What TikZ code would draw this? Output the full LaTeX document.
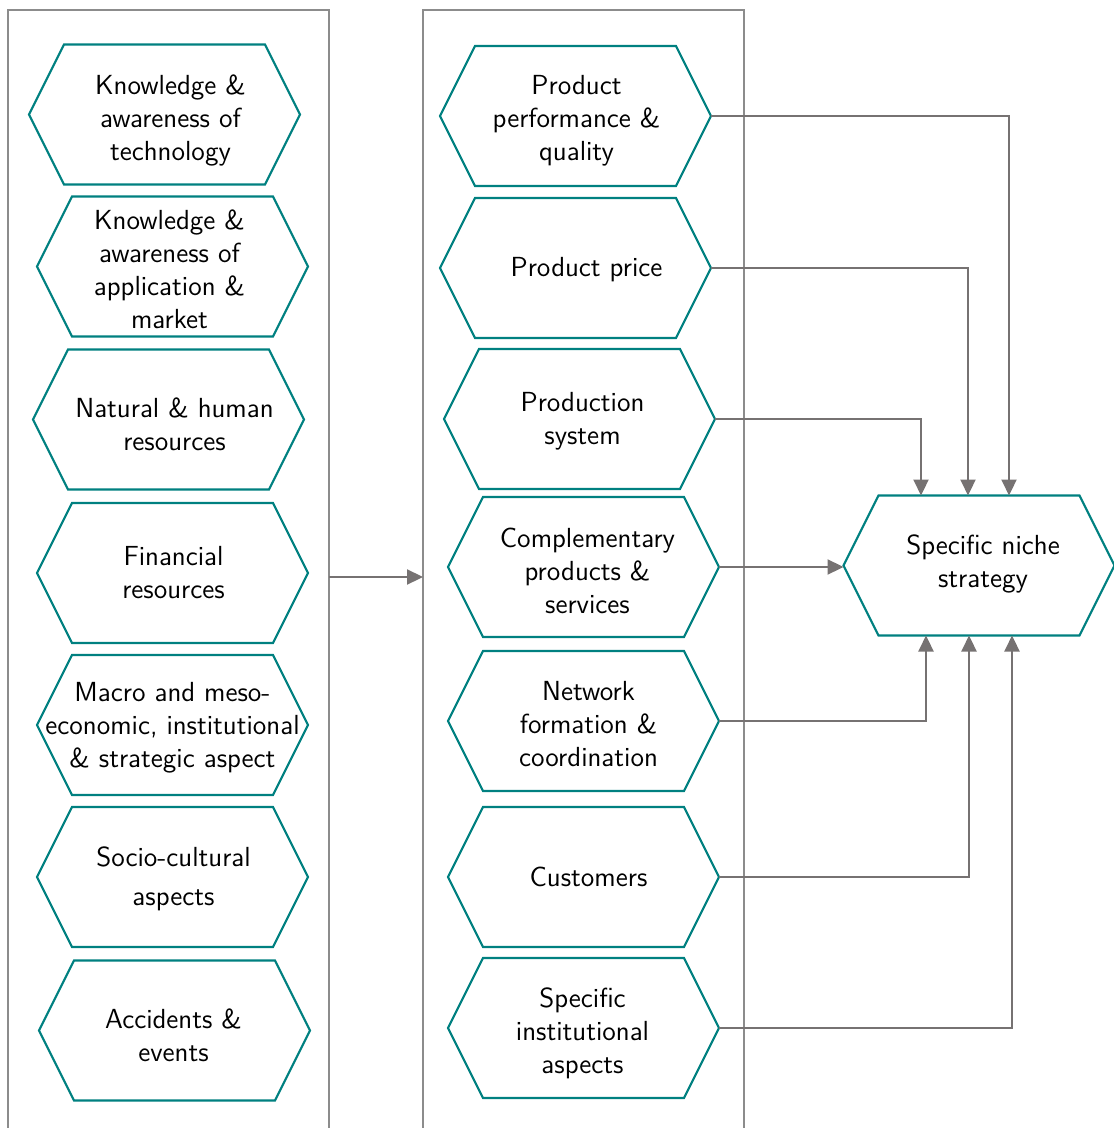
\documentclass[tikz,border=0pt]{standalone}
\usepackage{fontspec}
\usetikzlibrary{calc,arrows.meta}
\definecolor{hexteal}{RGB}{0,128,128}
\definecolor{linkgray}{RGB}{118,114,114}
\definecolor{framegray}{RGB}{140,140,140}
\tikzset{
  hexframe/.style={minimum width=135.5pt, minimum height=70pt, inner sep=0pt, outer sep=0pt},
  hexline/.style={draw=hexteal, line width=1.05pt, line join=miter},
  hextext/.style={font=\sffamily\fontsize{13.8}{16.5}\selectfont, align=center, inner sep=0pt},
  groupbox/.style={draw=framegray, line width=1pt, inner sep=0pt, outer sep=0pt},
  conn/.style={draw=linkgray, line width=1.1pt, -{Triangle[length=8pt,width=7.5pt]}}
}
% hexagon: name, centre x, centre y, text, text shift x, text shift y
\newcommand\hexagonnode[6]{%
  \node[hexframe] (#1) at (#2,#3) {};
  \draw[hexline] (#1.west) -- ($(#1.north west)+(35,0)$) -- ($(#1.north east)+(-35,0)$)
    -- (#1.east) -- ($(#1.south east)+(-35,0)$) -- ($(#1.south west)+(35,0)$) -- cycle;
  \node[hextext] (#1-t) at ($(#1)+(#5,#6)$) {#4};
}
\begin{document}
\begin{tikzpicture}[x=0.5pt,y=-0.5pt]
\useasboundingbox (0,0) rectangle (1113,1128);

% the two grouping frames run past the lower edge
\node[groupbox, minimum width=160.5pt, minimum height=580pt, anchor=north west] (lbox) at (8,10) {};
\node[groupbox, minimum width=160.5pt, minimum height=580pt, anchor=north west] (mbox) at (423,10) {};

% left column
\hexagonnode{l1}{164.5}{114.5}{Knowledge \&\\awareness of\\technology}{6}{6}
\hexagonnode{l2}{172.5}{266.5}{Knowledge \&\\awareness of\\application \&\\market}{-3}{3}
\hexagonnode{l3}{168.5}{419.5}{Natural \& human\\resources}{6}{5}
\hexagonnode{l4}{172.5}{573}{Financial\\resources}{1}{0}
\hexagonnode{l5}{172.5}{725}{Macro and meso-\\economic, institutional\\\& strategic aspect}{0}{3}
\hexagonnode{l6}{172.5}{877}{Socio-cultural\\[3pt]aspects}{1}{2}
\hexagonnode{l7}{174.5}{1030.5}{Accidents \&\\events}{-1}{5}

% middle column
\hexagonnode{m1}{575.5}{116}{Product\\performance \&\\quality}{1}{5}
\hexagonnode{m2}{575.5}{268}{Product price}{11}{2}
\hexagonnode{m3}{579.5}{419}{Production\\system}{3}{2}
\hexagonnode{m4}{583.5}{567}{Complementary\\products \&\\services}{4}{4}
\hexagonnode{m5}{583.5}{721}{Network\\formation \&\\coordination}{5}{3}
\hexagonnode{m6}{583.5}{877}{Customers}{5}{0}
\hexagonnode{m7}{583.5}{1028}{Specific\\institutional\\aspects}{-1}{5}

% outcome
\hexagonnode{r}{979}{565.5}{Specific niche\\strategy}{4}{-2}

% links
\coordinate (gl) at (0,577);
\draw[conn] (lbox.east |- gl) -- (mbox.west |- gl);

\draw[conn] (m1.east) -| ($(r.north)+(30,0)$);
\draw[conn] (m2.east) -| ($(r.north)+(-11,0)$);
\draw[conn] (m3.east) -| ($(r.north)+(-58,0)$);
\draw[conn] (m4.east) -- (m4.east -| r.west);
\draw[conn] (m5.east) -| ($(r.south)+(-53,0)$);
\draw[conn] (m6.east) -| ($(r.south)+(-10,0)$);
\draw[conn] (m7.east) -| ($(r.south)+(33,0)$);
\end{tikzpicture}
\end{document}
